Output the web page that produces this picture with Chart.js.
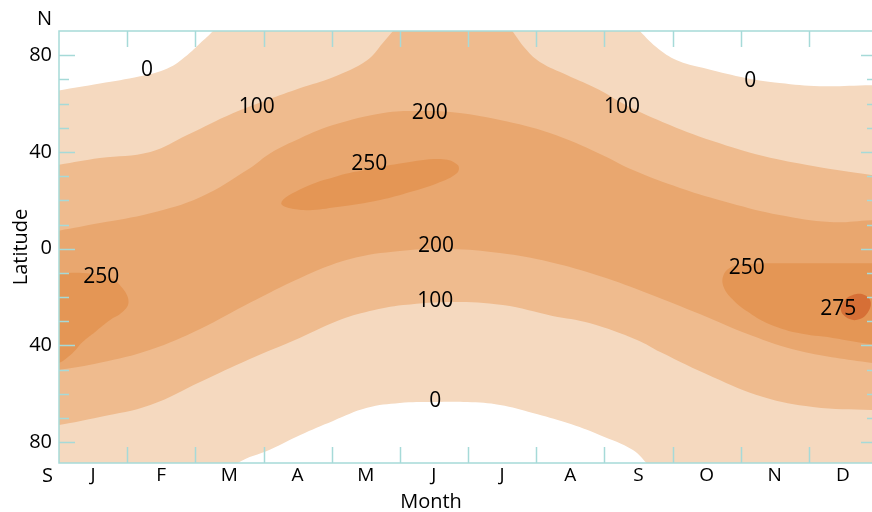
<!DOCTYPE html>
<html><head><meta charset="utf-8">
<script src="https://cdn.jsdelivr.net/npm/chart.js@4.4.1/dist/chart.umd.min.js"></script>
<style>
html,body{margin:0;padding:0;background:#fff;overflow:hidden;width:872px;height:512px}
#wrap{position:relative;width:872px;height:512px;overflow:hidden}
canvas{display:block}
</style></head>
<body><div id="wrap"><canvas id="c" width="880" height="512"></canvas></div>
<script>
// ---- axis categories / tick labels ----
const months = ['J','F','M','A','M','J','J','A','S','O','N','D'];
const latTickValues = [-80, -40, 0, 40, 80];
const latTickLabels = ['80', '40', '0', '40', '80'];

// ---- contour boundaries: [month, latitude] ----
// level 0 (northern edge, goes past the pole in summer)
const contour0North = [[-0.3,64.0],[-0.03,65.3],[0.6,68.3],[1.19,71.3],[1.59,74.5],[1.88,80.0],[2.07,84.9],[2.26,90.0],[2.45,96],[2.8,101],[8.0,101],[8.30,97],[8.52,90.0],[8.80,82.5],[9.10,77.5],[9.5,74.4],[10.09,70.5],[10.57,68.5],[11.16,67.2],[11.92,67.6],[12.3,67.5]];
const contour0South = [[-0.3,-100],[1.9,-100],[2.4,-95],[2.62,-88.6],[3.10,-83.0],[3.54,-77.0],[4.02,-71.2],[4.52,-65.8],[5.00,-63.8],[5.49,-63.4],[5.99,-63.4],[6.47,-64.6],[6.95,-67.9],[7.45,-72.0],[7.93,-77.0],[8.42,-83.2],[8.62,-88.6],[8.85,-95],[9.3,-100],[12.3,-100]];
// level 100
const contour100North = [[-0.3,33.5],[-0.03,34.6],[0.6,37.5],[1.34,40.0],[1.88,47.0],[2.55,56.0],[3.05,61.4],[3.54,66.4],[4.02,70.9],[4.52,77.9],[4.75,85.0],[4.90,90],[5.1,96],[5.5,100],[6.1,100],[6.5,96],[6.65,90],[6.86,82.1],[7.06,77.1],[7.45,71.8],[7.93,65.6],[8.3,59.6],[8.86,52.3],[9.59,44.5],[10.33,38.3],[11.06,34.2],[11.92,30.5],[12.3,29.5]];
const contour100South = [[-0.3,-74.0],[0.0,-72.9],[0.6,-69.6],[1.34,-64.6],[2.07,-55.1],[2.80,-45.6],[3.53,-36.9],[4.08,-29.9],[4.56,-25.8],[5.05,-23.3],[5.78,-22.0],[6.51,-23.3],[7.24,-27.8],[7.78,-30.7],[8.48,-37.7],[8.82,-42.7],[9.59,-53.0],[10.33,-61.3],[11.06,-65.4],[11.92,-66.7],[12.3,-67.0]];
// level 200
const contour200North = [[-0.3,6.0],[-0.03,7.3],[0.6,10.6],[1.34,14.7],[2.07,21.3],[2.80,33.3],[3.10,39.5],[3.54,45.7],[4.02,51.1],[4.76,56.1],[5.25,56.9],[5.74,56.5],[6.47,53.2],[7.20,47.8],[7.93,39.3],[8.42,32.5],[9.11,25.1],[9.84,18.9],[10.57,13.9],[11.31,11.0],[11.92,11.8],[12.3,12.0]];
const contour200South = [[-0.3,-51.0],[0.0,-50.1],[0.6,-47.2],[1.34,-41.8],[2.07,-33.2],[2.80,-22.4],[3.54,-12.1],[4.27,-4.3],[5.00,-0.95],[5.74,-0.1],[6.47,-1.8],[7.20,-5.5],[7.93,-11.3],[8.67,-18.8],[9.40,-27.0],[10.14,-35.7],[10.87,-42.3],[11.93,-47.3],[12.3,-48.5]];
// level 250 closed areas
const blob250North = [[4.56,32.9],[5.05,35.4],[5.63,37.0],[5.85,34.6],[5.84,31.3],[5.55,27.1],[5.15,23.4],[4.71,20.1],[4.08,17.2],[3.58,16.0],[3.26,18.8],[3.58,25.1],[4.08,30.0],[4.56,32.9],[5.05,35.4]];
const blob250West = [[-0.3,-9.5],[-0.03,-10.1],[0.35,-10.1],[0.75,-12.1],[0.93,-16.3],[1.02,-22.0],[0.93,-26.2],[0.75,-29.5],[0.53,-34.4],[0.35,-38.5],[0.19,-43.4],[-0.03,-47.6],[-0.3,-49.0]];
const blob250East = [[12.3,-6.0],[11.5,-6.0],[10.8,-6.0],[10.1,-6.3],[9.85,-7.8],[9.74,-11.6],[9.76,-16.5],[9.90,-21.5],[10.1,-26.0],[10.38,-30.7],[10.83,-34.8],[11.35,-36.9],[11.92,-39.5],[12.3,-40.5]];
// level 275
const blob275 = [[11.56,-20.4],[11.70,-18.7],[11.84,-19.5],[11.91,-22.5],[11.86,-26.6],[11.75,-29.1],[11.60,-29.1],[11.47,-25.3],[11.56,-20.4],[11.70,-18.7]];

// ---- contour labels: [month, latitude, text] ----
const contourLabels = [[1.29,73.9,'0'],[2.90,58.6,'100'],[5.44,56.1,'200'],[4.55,35.0,'250'],[8.26,58.6,'100'],[10.14,69.3,'0'],[5.53,1.1,'200'],[5.52,-21.6,'100'],[5.52,-63.0,'0'],[0.62,-11.7,'250'],[10.09,-8.0,'250'],[11.43,-24.9,'275']];

const colors = {l0:'#F5D9BF', l100:'#EFBB8E', l200:'#E9A76F', l250:'#E49655', l275:'#D66F36'};
const axisColor = '#a6dad8';
const FONT = '"Open Sans", "DejaVu Sans", sans-serif';

const toXY = pts => pts.map(([m, lat]) => ({x: m, y: lat}));
const band = (north, south) => toXY(north.concat(south.slice().reverse()));

function region(label, data, color, order) {
  return {label, data, order, backgroundColor: color, borderColor: 'rgba(0,0,0,0)', borderWidth: 0,
          fill: 'shape', tension: 0.4, pointRadius: 0, pointHoverRadius: 0};
}

const datasets = [
  region('0', band(contour0North, contour0South), colors.l0, 9),
  region('100', band(contour100North, contour100South), colors.l100, 8),
  region('200', band(contour200North, contour200South), colors.l200, 7),
  region('250 N', toXY(blob250North), colors.l250, 6),
  region('250 W', toXY(blob250West), colors.l250, 5),
  region('250 E', toXY(blob250East), colors.l250, 4),
  region('275', toXY(blob275), colors.l275, 3)
];

const decor = {
  id: 'decor',
  afterDatasetsDraw(chart) {
    const {ctx, chartArea: a, scales: {x, y}} = chart;
    ctx.save();
    ctx.fillStyle = '#000';
    ctx.font = '21px ' + FONT;
    ctx.textAlign = 'center';
    ctx.textBaseline = 'middle';
    for (const [m, lat, t] of contourLabels) ctx.fillText(t, x.getPixelForValue(m), y.getPixelForValue(lat));
    // frame
    ctx.strokeStyle = axisColor;
    ctx.lineWidth = 1.5;
    ctx.strokeRect(a.left, a.top, a.right - a.left, a.bottom - a.top);
    const seg = (x1, y1, x2, y2) => { ctx.beginPath(); ctx.moveTo(x1, y1); ctx.lineTo(x2, y2); ctx.stroke(); };
    for (let k = 1; k < months.length; k++) {
      const px = Math.round(x.getPixelForValue(k)) + 0.5;
      seg(px, a.top, px, a.top + 16);
      seg(px, a.bottom, px, a.bottom - 16);
    }
    for (let v = -80; v <= 80; v += 10) {
      const len = v % 40 === 0 ? 16 : 10;
      const py = Math.round(y.getPixelForValue(v)) + 0.5;
      seg(a.left, py, a.left + len, py);
      seg(a.right, py, a.right - len, py);
    }
    // hemisphere letters and x title
    ctx.fillStyle = '#000';
    ctx.textAlign = 'right';
    ctx.textBaseline = 'alphabetic';
    ctx.font = '20px ' + FONT;
    ctx.fillText('N', 52, a.top - 6);
    ctx.fillText('S', 53, 482);
    ctx.textAlign = 'center';
    ctx.font = '20px ' + FONT;
    ctx.fillText('Month', 431, 508);
    ctx.restore();
  }
};

new Chart(document.getElementById('c'), {
  type: 'line',
  data: {datasets},
  options: {
    responsive: false,
    animation: false,
    devicePixelRatio: 1,
    layout: {padding: {top: 31, right: 3, left: 0, bottom: 0}},
    elements: {line: {capBezierPoints: false}},
    plugins: {legend: {display: false}, tooltip: {enabled: false}},
    scales: {
      x: {
        type: 'linear', min: 0, max: 12,
        grid: {display: false, drawTicks: false},
        border: {display: false},
        afterBuildTicks: s => { s.ticks = months.map((_, i) => ({value: i + 0.5})); },
        afterFit: s => { s.height = 49; },
        ticks: {autoSkip: false, maxRotation: 0, padding: 1, color: '#000',
                font: {family: FONT, size: 19}, callback: (v, i) => months[i]}
      },
      y: {
        type: 'linear', min: -88.6, max: 90,
        grid: {display: false, drawTicks: false},
        border: {display: false},
        afterBuildTicks: s => { s.ticks = latTickValues.map(v => ({value: v})); },
        afterFit: s => { s.width = 59; },
        ticks: {autoSkip: false, padding: 7, color: '#000',
                font: {family: FONT, size: 20}, callback: (v, i) => latTickLabels[i]},
        title: {display: true, text: 'Latitude', color: '#000', padding: {top: 9, bottom: 0},
                font: {family: FONT, size: 20}}
      }
    }
  },
  plugins: [decor]
});
</script>
</body></html>
